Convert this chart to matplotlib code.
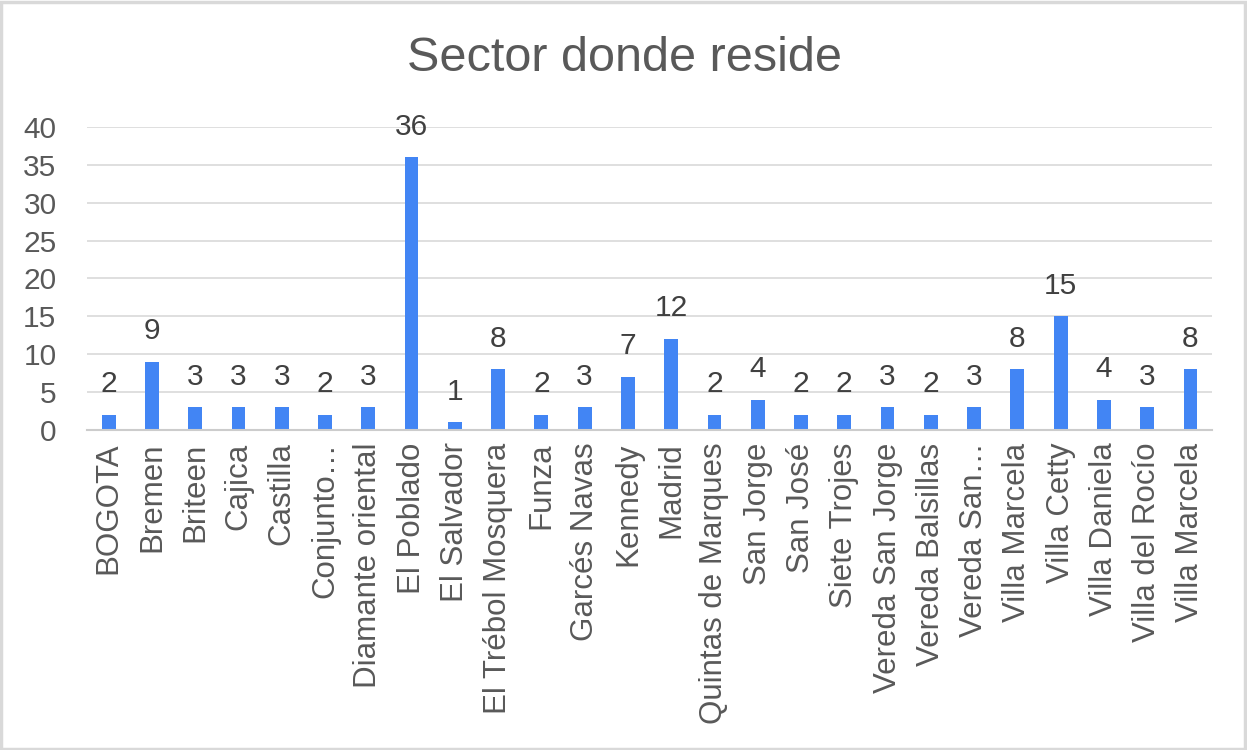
import matplotlib.pyplot as plt
from matplotlib.patches import Rectangle

# Respondents by residential sector
sectores = ["BOGOTA", "Bremen", "Briteen", "Cajica", "Castilla", "Conjunto…",
            "Diamante oriental", "El Poblado", "El Salvador", "El Trébol Mosquera",
            "Funza", "Garcés Navas", "Kennedy", "Madrid", "Quintas de Marques",
            "San Jorge", "San José", "Siete Trojes", "Vereda San Jorge",
            "Vereda Balsillas", "Vereda San…", "Villa Marcela", "Villa Cetty",
            "Villa Daniela", "Villa del Rocío", "Villa Marcela"]
conteo = [2, 9, 3, 3, 3, 2, 3, 36, 1, 8, 2, 3, 7, 12, 2, 4, 2, 2, 3, 2, 3, 8, 15, 4, 3, 8]
y_ticks = [0, 5, 10, 15, 20, 25, 30, 35, 40]

plt.rcParams["font.family"] = ["Liberation Sans", "DejaVu Sans"]

fig = plt.figure(figsize=(12.47, 7.5), dpi=100)
ax = fig.add_axes([0.0698, 0.4267, 0.9022, 0.404])

x = list(range(len(sectores)))
ax.bar(x, conteo, width=0.32, color="#4285F4", zorder=3)

# value labels above each bar
for xi, v in zip(x, conteo):
    ax.annotate(str(v), (xi, v), xytext=(0, 12), textcoords="offset points",
                ha="center", va="bottom", fontsize=21.5, color="#404040")

ax.set_xlim(-0.5, len(sectores) - 0.5)
ax.set_ylim(0, 40)
ax.set_yticks(y_ticks)
ax.set_xticks(x)
ax.set_xticklabels(sectores, rotation=90, va="top", ha="center")
ax.tick_params(axis="x", length=0, pad=9, labelsize=22.5, labelcolor="#595959")
ax.tick_params(axis="y", length=0, pad=22, labelsize=21.5, labelcolor="#595959")

ax.grid(axis="y", color="#d9d9d9", linewidth=1.2, zorder=0)
for side in ["top", "right", "left"]:
    ax.spines[side].set_visible(False)
ax.spines["bottom"].set_color("#cccccc")
ax.spines["bottom"].set_linewidth(1.5)
ax.spines["bottom"].set_zorder(4)

fig.text(0.501, 0.922, "Sector donde reside", ha="center", va="center",
         fontsize=35, color="#595959")

# light frame around the whole chart
fig.patches.append(Rectangle((0.001, 0.002), 0.997, 0.995, transform=fig.transFigure,
                             fill=False, edgecolor="#d9d9d9", linewidth=2.5))

fig.savefig("out.png", dpi=100)
